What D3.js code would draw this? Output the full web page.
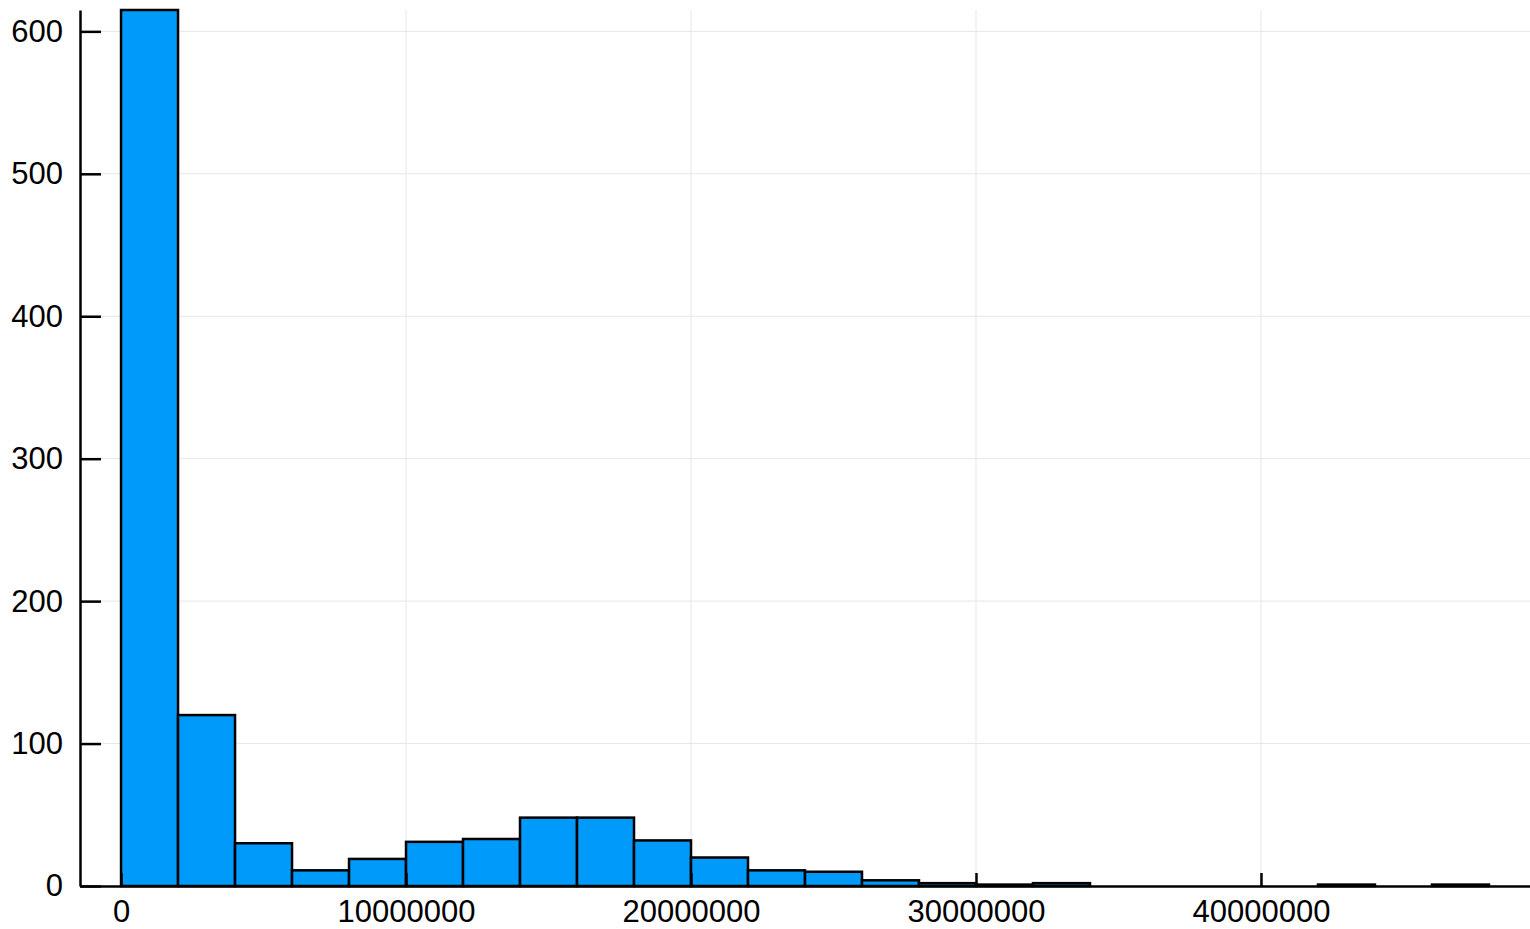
<!DOCTYPE html>
<html>
<head>
<meta charset="utf-8">
<script src="https://cdn.jsdelivr.net/npm/d3@7"></script>
<style>
html,body{margin:0;padding:0;background:#fff;}
svg{display:block;}
text{font-family:"Liberation Sans",Arial,Helvetica,sans-serif;fill:#000;}
</style>
</head>
<body>
<svg id="chart" width="1530" height="929"></svg>
<script>
// Histogram bins (width 2,000,000) starting at 0
const binStarts = [0,2e6,4e6,6e6,8e6,10e6,12e6,14e6,16e6,18e6,20e6,22e6,24e6,26e6,28e6,30e6,32e6,34e6,36e6,38e6,40e6,42e6,44e6,46e6];
const binWidth = 2e6;
const counts = [615,120,30,11,19,31,33,48,48,32,20,11,10,4,2,1,2,0,0,0,0,1,0,1];
const xTicks = [0,10000000,20000000,30000000,40000000];
const yTicks = [0,100,200,300,400,500,600];
const xDomain = [-1.44e6, 49.44e6];
const yDomain = [0, 615];

const svg = d3.select("#chart");
const L = 80, R = 1530, T = 10, B = 886;

const x = d3.scaleLinear().domain(xDomain).range([L, R]);
const y = d3.scaleLinear().domain(yDomain).range([B, T]);

// gridlines
const grid = svg.append("g");
grid.selectAll("line.gx").data(xTicks).join("line")
  .attr("x1", d => x(d)).attr("x2", d => x(d))
  .attr("y1", T).attr("y2", B)
  .attr("stroke", "#e6e6e6").attr("stroke-width", 1);
grid.selectAll("line.gy").data(yTicks).join("line")
  .attr("x1", L).attr("x2", R)
  .attr("y1", d => y(d)).attr("y2", d => y(d))
  .attr("stroke", "#e6e6e6").attr("stroke-width", 1);

// bars
svg.append("g").selectAll("rect").data(binStarts).join("rect")
  .attr("x", d => x(d))
  .attr("width", d => x(d + binWidth) - x(d))
  .attr("y", (d, i) => y(counts[i]))
  .attr("height", (d, i) => y(0) - y(counts[i]))
  .attr("fill", "#009AFA")
  .attr("stroke", "#000")
  .attr("stroke-width", 2.5);

// axes
const xAxis = d3.axisBottom(x).tickValues(xTicks).tickFormat(d3.format("d"))
  .tickSizeInner(-13).tickSizeOuter(0).tickPadding(14);
const gx = svg.append("g").attr("transform", `translate(0,${B})`).call(xAxis);
gx.select(".domain").attr("stroke", "#000").attr("stroke-width", 2.5);
gx.selectAll(".tick line").attr("stroke", "#000").attr("stroke-width", 2.5);
gx.selectAll(".tick text").attr("font-size", 31).attr("dy", "0.71em")
  .style("font-family", '"Liberation Sans",Arial,sans-serif');

const yAxis = d3.axisLeft(y).tickValues(yTicks).tickFormat(d3.format("d"))
  .tickSizeInner(-21).tickSizeOuter(0).tickPadding(17);
const gy = svg.append("g").attr("transform", `translate(${L},0)`).call(yAxis);
gy.select(".domain").attr("stroke", "#000").attr("stroke-width", 2.5);
gy.selectAll(".tick line").attr("stroke", "#000").attr("stroke-width", 2.5);
gy.selectAll(".tick text").attr("font-size", 31)
  .style("font-family", '"Liberation Sans",Arial,sans-serif');
</script>
</body>
</html>
